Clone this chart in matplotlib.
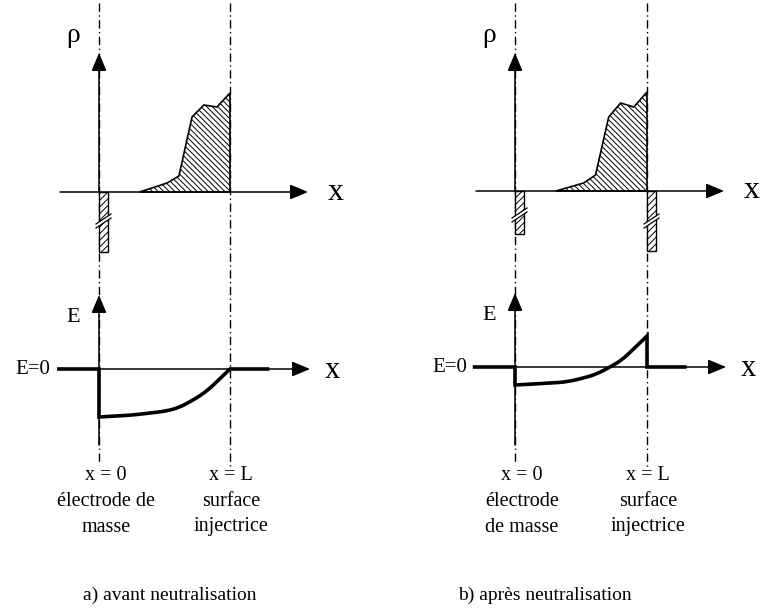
import matplotlib
matplotlib.use('Agg')
import matplotlib.pyplot as plt
from matplotlib.patches import Polygon, Rectangle, PathPatch
from matplotlib.path import Path

plt.rcParams['font.family'] = ['Liberation Serif', 'DejaVu Serif']
plt.rcParams['hatch.linewidth'] = 0.7
plt.rcParams['hatch.color'] = 'black'

# densite de charge : x en fraction de L, rho en px au-dessus de l'axe
rho_x = [0.31, 0.52, 0.61, 0.71, 0.80, 0.90, 1.00]
rho_a = [0, 9, 16, 75, 87, 85, 99]
rho_b = [0, 8, 16, 74, 88, 84, 99]

# charges sur les electrodes (position en fraction de L, profondeur)
bar_pos_a = [0.0]
bar_depth_a = [60]
bar_pos_b = [0.0, 1.0]
bar_depth_b = [43, 60]

# champ electrique E(x)
E_x_a = [0, 0.13, 0.26, 0.39, 0.52, 0.62, 0.69, 0.77, 0.85, 0.92, 1.0]
E_a = [-48, -47, -46, -44, -42, -38, -33, -27, -19, -10, 0]
E_x_b = [0, 0.14, 0.265, 0.39, 0.52, 0.62, 0.72, 0.81, 0.89, 1.0]
E_b = [-18, -17, -16, -15, -11, -7, 0, 7, 17, 31]

labels_a = ['x = 0\nélectrode de\nmasse', 'x = L\nsurface\ninjectrice']
labels_b = ['x = 0\nélectrode\nde masse', 'x = L\nsurface\ninjectrice']
caption_a = 'a) avant neutralisation'
caption_b = 'b) après neutralisation'

fig = plt.figure(figsize=(7.6, 6.11), dpi=100)
ax = fig.add_axes([0, 0, 1, 1])
ax.set_xlim(0, 760)
ax.set_ylim(611, 0)
ax.axis('off')

FS = 14


def fleche(x1, y1, x2, y2):
    ax.annotate('', xy=(x2, y2), xytext=(x1, y1),
                arrowprops=dict(arrowstyle='-|>,head_length=1.0,head_width=0.42',
                                lw=1.1, color='k', shrinkA=0, shrinkB=0,
                                mutation_scale=11))


def barre(xg, yr, w, depth, yc):
    ax.add_patch(Rectangle((xg, yr), w, depth, fc='white', ec='k', lw=1.0,
                           hatch='/////', zorder=3))
    # coupure //
    ax.add_patch(Polygon([(xg - 3, yc + 3), (xg + w + 3, yc - 7),
                          (xg + w + 3, yc - 3), (xg - 3, yc + 7)],
                         closed=True, fc='white', ec='none', zorder=4))
    ax.plot([xg - 3, xg + w + 3], [yc + 3, yc - 7], color='k', lw=0.9, zorder=5)
    ax.plot([xg - 3, xg + w + 3], [yc + 7, yc - 3], color='k', lw=0.9, zorder=5)


def trace_E(x0, L, ye, ex, ev, e_right):
    pts = [(x0 + f * L, ye - v) for f, v in zip(ex, ev)]
    verts = [(x0 - 0.32 * L, ye), (x0, ye), pts[0]]
    codes = [Path.MOVETO, Path.LINETO, Path.LINETO]
    # courbe lissee (quadratique par les milieux)
    for i in range(1, len(pts) - 1):
        mx = (pts[i][0] + pts[i + 1][0]) / 2
        my = (pts[i][1] + pts[i + 1][1]) / 2
        verts += [pts[i], (mx, my)]
        codes += [Path.CURVE3, Path.CURVE3]
    verts += [pts[-1], (x0 + L, ye), (x0 + e_right * L, ye)]
    codes += [Path.LINETO, Path.LINETO, Path.LINETO]
    ax.add_patch(PathPatch(Path(verts, codes), fill=False, ec='k', lw=2.6,
                           joinstyle='miter', capstyle='butt', zorder=6))


def panneau(x0, L, yr, ye, rv, bpos, bdepth, breaks, ex, ev, e_right, e0_gap,
            labels, caption, cap_x):
    # lignes tiret-point x = 0 et x = L
    for f, ybot in [(0, 465), (1, 469)]:
        ax.plot([x0 + f * L] * 2, [3, ybot], color='k', lw=1.0,
                linestyle=(0, (6, 2.5, 1, 2.5)), zorder=1)

    # axes du graphe rho
    fleche(x0 - 39, yr, x0 + 209, yr)
    fleche(x0, yr, x0, 53)
    ax.text(x0 - 26, 35, 'ρ', fontsize=20, ha='center', va='center')
    ax.text(x0 + 237, yr, 'x', fontsize=23, ha='center', va='center')

    # zone chargee
    pts = [(x0 + f * L, yr - v) for f, v in zip(rho_x, rv)]
    pts.append((x0 + L, yr))
    ax.add_patch(Polygon(pts, closed=True, fc='white', ec='k', lw=1.2,
                         hatch='\\' * 6, zorder=2))

    for f, d, yc in zip(bpos, bdepth, breaks):
        barre(x0 + f * L, yr, 9, d, yc)

    # axes du graphe E
    fleche(x0, ye, x0 + 211, ye)
    fleche(x0, 445, x0, ye - 74)
    ax.text(x0 - 26, ye - 52, 'E', fontsize=FS + 2, ha='center', va='center')
    ax.text(x0 + 233, ye + 1, 'x', fontsize=22, ha='center', va='center')
    ax.text(x0 - e0_gap, ye + 1, 'E=0', fontsize=FS + 1, ha='right', va='center')

    trace_E(x0, L, ye, ex, ev, e_right)

    # legendes
    ax.text(x0 + 7, 501, labels[0], fontsize=FS + 0.5, ha='center', va='center',
            linespacing=1.5)
    ax.text(x0 + L + 1, 501, labels[1], fontsize=FS + 0.5, ha='center',
            va='center', linespacing=1.5)
    ax.text(cap_x, 595, caption, fontsize=FS, ha='center', va='center')


panneau(99, 131, 192, 369, rho_a, bar_pos_a, bar_depth_a, [221],
        E_x_a, E_a, 1.30, 49, labels_a, caption_a, 170)
panneau(515, 132, 191, 367, rho_b, bar_pos_b, bar_depth_b, [215, 221],
        E_x_b, E_b, 1.30, 48, labels_b, caption_b, 545)

fig.savefig('out.png', dpi=100)
